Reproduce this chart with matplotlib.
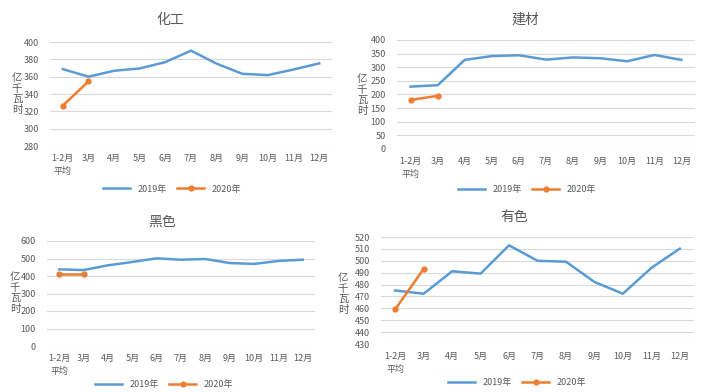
import matplotlib
matplotlib.use("Agg")
import matplotlib.pyplot as plt

plt.rcParams["font.family"] = ["Noto Sans CJK SC", "DejaVu Sans"]

# 数据（亿千瓦时）
months = ["1-2月\n平均", "3月", "4月", "5月", "6月", "7月", "8月", "9月", "10月", "11月", "12月"]

huagong_2019 = [368.7, 360, 366.8, 369.5, 376.8, 390, 375, 363.3, 361.8, 368.3, 375.3]
huagong_2020 = [326.7, 354.5]

jiancai_2019 = [229, 234, 327, 341, 344, 328, 336, 333, 322, 345, 327]
jiancai_2020 = [180, 195]

heise_2019 = [438, 434, 461, 480, 501, 493, 497, 474, 469, 486, 493]
heise_2020 = [411, 411]

youse_2019 = [475, 472.3, 491.2, 489.2, 513, 500, 499.2, 482.2, 472.3, 494, 510.2]
youse_2020 = [459.2, 493.2]

BLUE = "#5B9BD5"
ORANGE = "#ED7D31"
GRAY = "#595959"
GRID = "#D9D9D9"

W, H = 705, 392
fig = plt.figure(figsize=(W / 100, H / 100), dpi=100)


def px_axes(x0, x1, y0, y1):
    # 像素坐标 -> figure 坐标
    return fig.add_axes([x0 / W, 1 - y1 / H, (x1 - x0) / W, (y1 - y0) / H])


def panel(box, title, s2019, s2020, yticks, title_pos, ylabel_pos, legend_pos):
    ax = px_axes(*box)
    x = list(range(len(months)))
    ax.plot(x, s2019, color=BLUE, linewidth=1.8, label="2019年")
    ax.plot(x[:len(s2020)], s2020, color=ORANGE, linewidth=1.8,
            marker="o", markersize=3.5, label="2020年")
    ax.set_xlim(-0.5, len(months) - 0.5)
    ax.set_ylim(yticks[0], yticks[-1])
    ax.set_yticks(yticks)
    ax.set_xticks(x)
    ax.set_xticklabels(months, fontsize=6.5, color=GRAY, linespacing=1.5,
                       multialignment="center")
    ax.tick_params(axis="y", labelsize=6.5, labelcolor=GRAY, length=0, pad=8)
    ax.tick_params(axis="x", length=0, pad=6)
    ax.grid(axis="y", color=GRID, linewidth=0.8)
    ax.set_axisbelow(True)
    for s in ax.spines.values():
        s.set_visible(False)

    fig.text(title_pos[0] / W, 1 - title_pos[1] / H, title, fontsize=10,
             color=GRAY, ha="center", va="center")
    fig.text(ylabel_pos[0] / W, 1 - ylabel_pos[1] / H, "亿\n千\n瓦\n时",
             fontsize=7.5, color=GRAY, ha="center", va="center", linespacing=1.05)
    ax.legend(loc="center", bbox_to_anchor=(legend_pos[0] / W, 1 - legend_pos[1] / H),
              bbox_transform=fig.transFigure, ncol=2, frameon=False, fontsize=6.5,
              handlelength=3, columnspacing=1.2, labelcolor=GRAY)
    return ax


panel((50, 332, 42, 146), "化工", huagong_2019, huagong_2020,
      list(range(280, 401, 20)), (170, 20), (17, 94), (172, 189))
panel((397, 695, 40, 149), "建材", jiancai_2019, jiancai_2020,
      list(range(0, 401, 50)), (525, 20), (362, 95), (527, 190))
panel((47, 315, 241, 346), "黑色", heise_2019, heise_2020,
      list(range(0, 601, 100)), (162, 222), (15, 293), (164, 385))
panel((381, 694, 237, 344), "有色", youse_2019, youse_2020,
      list(range(430, 521, 10)), (514, 217), (343, 294), (517, 383))

fig.savefig("out.png", dpi=100)
